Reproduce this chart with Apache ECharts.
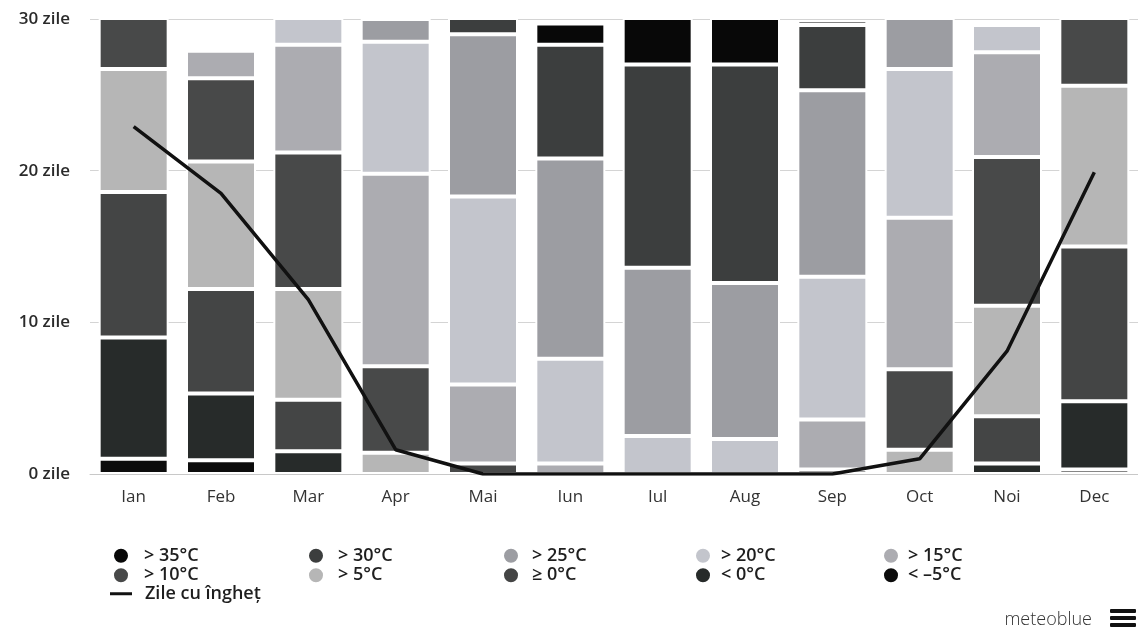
<!DOCTYPE html>
<html>
<head>
<meta charset="utf-8">
<title>Temperaturi maxime</title>
<script src="https://cdn.jsdelivr.net/npm/echarts@6/dist/echarts.min.js"></script>
<style>
    html, body { margin: 0; padding: 0; background: #fff; }
    #chart { width: 1138px; height: 632px; }
</style>
</head>
<body>
<div id="chart"></div>
<script>
    // luni
    const months = ['Ian', 'Feb', 'Mar', 'Apr', 'Mai', 'Iun', 'Iul', 'Aug', 'Sep', 'Oct', 'Noi', 'Dec'];

    // zile pe luna, pe clase de temperatura maxima (de jos in sus)
    const daysBelowMinus5 = [1.0, 0.9, 0, 0, 0, 0, 0, 0, 0, 0, 0, 0.3];
    const daysBelow0 = [8.0, 4.4, 1.5, 0, 0, 0, 0, 0, 0, 0, 0.7, 4.5];
    const daysAbove0 = [9.6, 6.9, 3.4, 0, 0, 0, 0, 0, 0, 0, 3.1, 10.2];
    const daysAbove5 = [8.1, 8.4, 7.3, 1.4, 0, 0, 0, 0, 0, 1.6, 7.3, 10.6];
    const daysAbove10 = [4.3, 5.5, 9.0, 5.7, 0.7, 0, 0, 0, 0.3, 5.3, 9.8, 5.4];
    const daysAbove15 = [0, 1.8, 7.1, 12.7, 5.2, 0.7, 0, 0, 3.3, 10.0, 6.9, 0];
    const daysAbove20 = [0, 0, 2.7, 8.7, 12.4, 6.9, 2.5, 2.3, 9.4, 9.8, 1.8, 0];
    const daysAbove25 = [0, 0, 0, 1.5, 10.7, 13.2, 11.1, 10.3, 12.3, 4.3, 0, 0];
    const daysAbove30 = [0, 0, 0, 0, 2.0, 7.5, 13.4, 14.4, 4.3, 0, 0, 0];
    const daysAbove35 = [0, 0, 0, 0, 0, 1.4, 4.0, 4.0, 0.3, 0, 0, 0];

    // zile cu inghet
    const frostDays = [22.9, 18.5, 11.5, 1.6, 0, 0, 0, 0, 0, 1.0, 8.1, 19.9];

    const bucketNames = ['< –5°C', '< 0°C', '≥ 0°C', '> 5°C', '> 10°C', '> 15°C', '> 20°C', '> 25°C', '> 30°C', '> 35°C'];
    const bucketData = [daysBelowMinus5, daysBelow0, daysAbove0, daysAbove5, daysAbove10,
        daysAbove15, daysAbove20, daysAbove25, daysAbove30, daysAbove35];
    const frostName = 'Zile cu îngheț';

    const yTicks = [0, 10, 20, 30];

    const bucketColors = ['#0c0c0c', '#272b2a', '#444545', '#b6b6b6', '#484949',
        '#acacb1', '#c3c5cc', '#9c9da2', '#3c3e3e', '#080808'];

    const font = '"Open Sans", "Noto Sans", sans-serif';

    const barSeries = bucketNames.map((name, i) => ({
        name: name,
        type: 'bar',
        stack: 'zile',
        barWidth: 70,
        clip: true,
        itemStyle: {
            color: bucketColors[i],
            borderColor: '#fff',
            borderWidth: 2
        },
        data: bucketData[i].map(v => v === 0 ? '-' : v)
    }));

    function legendColumn(left, names, pad) {
        return {
            orient: 'vertical',
            left: left,
            top: 541,
            itemWidth: 16,
            itemHeight: 16,
            itemGap: 0,
            icon: 'circle',
            selectedMode: false,
            textStyle: {
                fontFamily: font,
                fontSize: 18,
                fontWeight: 600,
                color: '#1e1e1e',
                lineHeight: 19.5,
                padding: [0, 0, 0, pad]
            },
            data: names
        };
    }

    const option = {
        animation: false,
        backgroundColor: '#fff',
        grid: {
            left: 90,
            top: 19,
            width: 1050,
            height: 455
        },
        xAxis: {
            type: 'category',
            data: months,
            axisTick: { show: false },
            axisLine: { lineStyle: { color: '#c8c8c8', width: 1 } },
            axisLabel: {
                margin: 15,
                fontFamily: font,
                fontSize: 17,
                color: '#333'
            }
        },
        yAxis: {
            type: 'value',
            min: yTicks[0],
            max: yTicks[yTicks.length - 1],
            interval: 10,
            axisLine: { show: false },
            axisTick: { show: false },
            splitLine: { lineStyle: { color: '#d4d4d4', width: 1 } },
            axisLabel: {
                margin: 20,
                fontFamily: font,
                fontSize: 17,
                fontWeight: 600,
                color: '#2a2a2a',
                formatter: '{value} zile'
            }
        },
        legend: [
            legendColumn(107, ['> 35°C', '> 10°C'], 10),
            legendColumn(302, ['> 30°C', '> 5°C'], 9),
            legendColumn(497, ['> 25°C', '≥ 0°C'], 8),
            legendColumn(689, ['> 20°C', '< 0°C'], 5),
            legendColumn(877, ['> 15°C', '< –5°C'], 4),
            {
                orient: 'vertical',
                left: 105,
                top: 579,
                itemWidth: 22,
                itemHeight: 3,
                icon: 'rect',
                selectedMode: false,
                textStyle: {
                    fontFamily: font,
                    fontSize: 18,
                    fontWeight: 600,
                    color: '#1e1e1e',
                    lineHeight: 19.5,
                    padding: [0, 0, 0, 8]
                },
                data: [frostName]
            }
        ],
        graphic: [
            {
                type: 'text',
                right: 46,
                top: 611,
                style: {
                    text: 'meteoblue',
                    font: '300 18px "Open Sans", sans-serif',
                    fill: '#333'
                }
            },
            {
                type: 'group',
                left: 1110,
                top: 609,
                children: [
                    { type: 'rect', shape: { x: 0, y: 0, width: 26, height: 4, r: 1 }, style: { fill: '#111' } },
                    { type: 'rect', shape: { x: 0, y: 7, width: 26, height: 4, r: 1 }, style: { fill: '#111' } },
                    { type: 'rect', shape: { x: 0, y: 14, width: 26, height: 4, r: 1 }, style: { fill: '#111' } }
                ]
            }
        ],
        series: barSeries.concat([{
            name: frostName,
            type: 'line',
            data: frostDays,
            symbol: 'none',
            z: 5,
            itemStyle: { color: '#111' },
            lineStyle: { color: '#111', width: 3.5 }
        }])
    };

    echarts.init(document.getElementById('chart')).setOption(option);
</script>
</body>
</html>
